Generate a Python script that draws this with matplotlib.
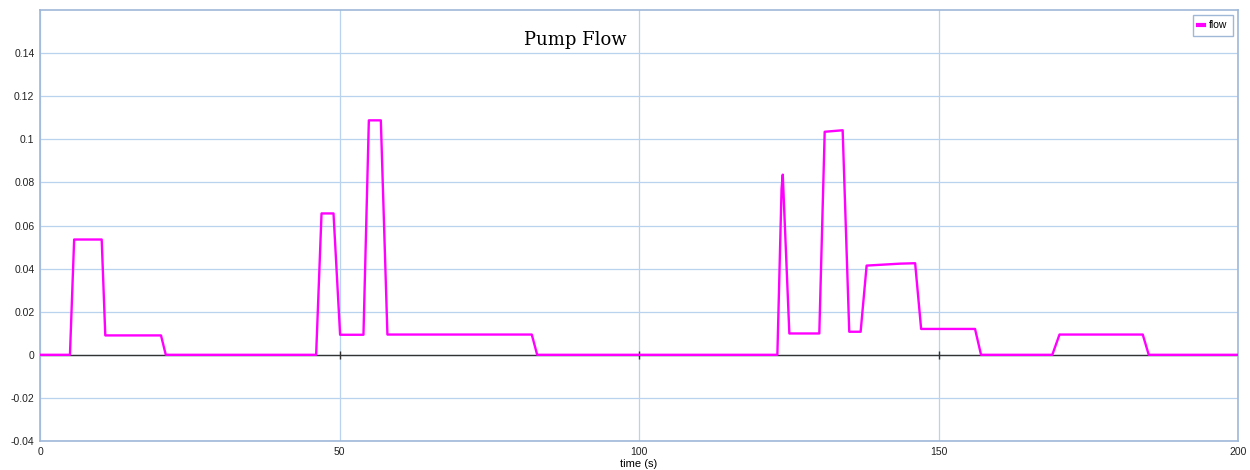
import matplotlib.pyplot as plt

# time (s) and pump flow values
time_s = [0, 5.0, 5.7, 10.3, 10.9, 20.2, 21.0,
          46.1, 47.0, 49.0, 50.1, 54.0, 54.9, 56.9, 58.0, 82.1, 83.0,
          123.1, 123.8, 124.0, 125.1, 130.1, 131.0, 134.0, 135.1, 137.0,
          138.0, 143.6, 146.1, 147.1, 156.1, 157.1,
          169.0, 170.2, 184.1, 185.1, 200]
flow = [0, 0, 0.0535, 0.0535, 0.009, 0.009, 0,
        0, 0.0656, 0.0656, 0.0093, 0.0093, 0.1088, 0.1088, 0.0094, 0.0094, 0,
        0, 0.077, 0.0836, 0.0099, 0.0099, 0.1035, 0.1042, 0.0107, 0.0107,
        0.0414, 0.0423, 0.0425, 0.012, 0.012, 0,
        0, 0.0094, 0.0094, 0, 0]

x_ticks = [0, 50, 100, 150, 200]
y_ticks = [-0.04, -0.02, 0, 0.02, 0.04, 0.06, 0.08, 0.1, 0.12, 0.14]
y_labels = ['-0.04', '-0.02', '0', '0.02', '0.04', '0.06', '0.08', '0.1', '0.12', '0.14']

grid_col = '#b9d3ee'
spine_col = '#9fb8d8'

plt.rcParams['font.family'] = ['Liberation Sans', 'DejaVu Sans']

fig = plt.figure(figsize=(12.5, 4.7), dpi=100)
ax = fig.add_axes([0.032, 0.0617, 0.9584, 0.917])

ax.set_xlim(0, 200)
ax.set_ylim(-0.04, 0.16)
ax.set_xticks(x_ticks)
ax.set_yticks(y_ticks)
ax.set_yticklabels(y_labels)
ax.tick_params(length=0, labelsize=7.5, colors='#222222', pad=4)
ax.grid(True, color=grid_col, linewidth=0.9)
for s in ax.spines.values():
    s.set_color(spine_col)
    s.set_linewidth(1.2)

# zero line with tick marks
ax.axhline(0, color='#333333', linewidth=1.0, zorder=2)
ax.plot(x_ticks[1:-1], [0] * 3, linestyle='none', marker='|', color='#333333',
        markersize=6, zorder=2)

ax.plot(time_s, flow, color='#ff00ff', linewidth=1.7, label='flow', zorder=3)

ax.text(0.447, 0.93, 'Pump Flow', transform=ax.transAxes, ha='center', va='center',
        fontsize=13, family='DejaVu Serif')
ax.set_xlabel('time (s)', fontsize=8, labelpad=2)

leg = ax.legend(loc='upper right', fontsize=7.5, handlelength=0.6, handletextpad=0.5,
                borderpad=0.5, fancybox=False, framealpha=1, borderaxespad=0.5)
leg.get_frame().set_edgecolor(spine_col)
for ln in leg.get_lines():
    ln.set_linewidth(3)

fig.savefig('out.png', dpi=100)
